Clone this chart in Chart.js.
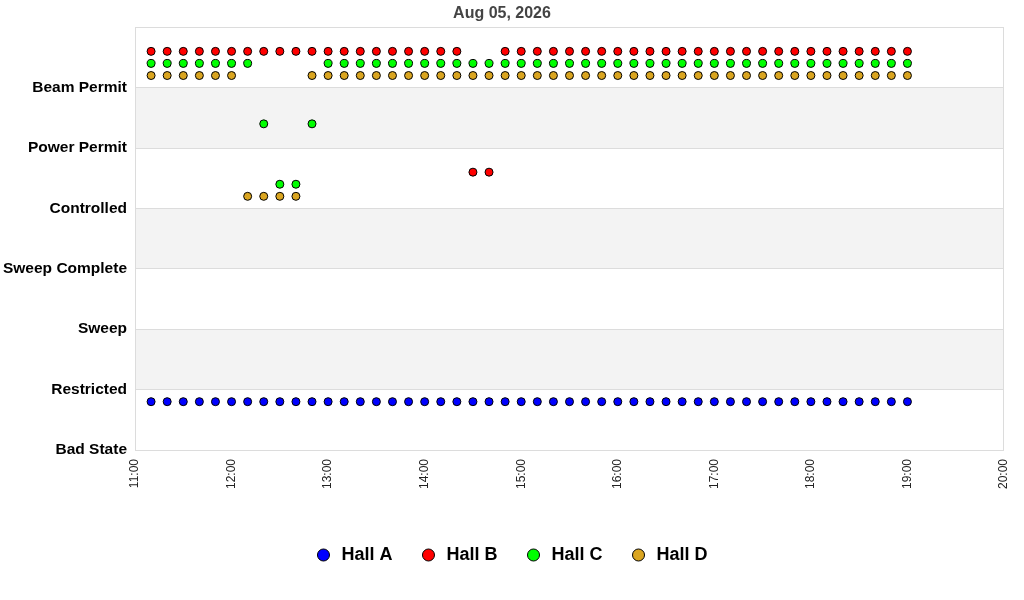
<!DOCTYPE html>
<html><head><meta charset="utf-8">
<script src="https://cdn.jsdelivr.net/npm/chart.js@4/dist/chart.umd.min.js"></script>
<style>html,body{margin:0;padding:0;background:#fff}#wrap{width:1024px;height:600px;position:relative}</style>
</head><body><div id="wrap"><canvas id="c"></canvas></div>
<script>
const titleText = "Aug 05, 2026";
const stateLabels = ["Bad State","Restricted","Sweep","Sweep Complete","Controlled","Power Permit","Beam Permit"];
const xTickLabels = ["11:00","12:00","13:00","14:00","15:00","16:00","17:00","18:00","19:00","20:00"];
const times = ["11:10","11:20","11:30","11:40","11:50","12:00","12:10","12:20","12:30","12:40","12:50","13:00",
"13:10","13:20","13:30","13:40","13:50","14:00","14:10","14:20","14:30","14:40","14:50","15:00",
"15:10","15:20","15:30","15:40","15:50","16:00","16:10","16:20","16:30","16:40","16:50","17:00",
"17:10","17:20","17:30","17:40","17:50","18:00","18:10","18:20","18:30","18:40","18:50","19:00"];
// state index per time (index into stateLabels)
const hallA = [0,0,0,0,0,0,0,0,0,0,0,0, 0,0,0,0,0,0,0,0,0,0,0,0, 0,0,0,0,0,0,0,0,0,0,0,0, 0,0,0,0,0,0,0,0,0,0,0,0];
const hallB = [6,6,6,6,6,6,6,6,6,6,6,6, 6,6,6,6,6,6,6,6,4,4,6,6, 6,6,6,6,6,6,6,6,6,6,6,6, 6,6,6,6,6,6,6,6,6,6,6,6];
const hallC = [6,6,6,6,6,6,6,5,4,4,5,6, 6,6,6,6,6,6,6,6,6,6,6,6, 6,6,6,6,6,6,6,6,6,6,6,6, 6,6,6,6,6,6,6,6,6,6,6,6];
const hallD = [6,6,6,6,6,6,4,4,4,4,6,6, 6,6,6,6,6,6,6,6,6,6,6,6, 6,6,6,6,6,6,6,6,6,6,6,6, 6,6,6,6,6,6,6,6,6,6,6,6];
const hallNames = ["Hall A","Hall B","Hall C","Hall D"];
const hallStates = [hallA, hallB, hallC, hallD];
const hallColors = ["#0000ff","#ff0000","#00ff00","#daa520"];
const hallOffsets = [0.8, 0.6, 0.4, 0.2];

function toMin(t){ const p=t.split(":"); return (+p[0])*60 + (+p[1]); }
function fmt(m){ const h=Math.floor(m/60), mm=m%60; return String(h).padStart(2,"0")+":"+String(mm).padStart(2,"0"); }

const datasets = hallNames.map((name,i)=>({
  label: name,
  data: times.map((t,j)=>({x: toMin(t), y: hallStates[i][j] + hallOffsets[i]})),
  backgroundColor: hallColors[i],
  borderColor: "#000",
  borderWidth: 1,
  pointRadius: 4,
  pointHoverRadius: 4,
  showLine: false
}));

const bandPlugin = {
  id: "bands",
  afterLayout(chart){
    if (chart.legend){ chart.legend.left += 9; chart.legend.right += 9; }
  },
  beforeDraw(chart){
    const {ctx, chartArea:a, scales:{y}} = chart;
    ctx.save();
    ctx.fillStyle = "#fff";
    ctx.fillRect(0,0,chart.width,chart.height);
    ctx.fillStyle = "#f3f3f3";
    for (let k=1;k<7;k+=2){
      const top = y.getPixelForValue(k+1), bot = y.getPixelForValue(k);
      ctx.fillRect(a.left, top, a.right-a.left, bot-top);
    }
    ctx.restore();
  },
  beforeDatasetsDraw(chart){
    const {ctx, chartArea:a} = chart;
    ctx.save();
    ctx.strokeStyle = "#dcdcdc";
    ctx.lineWidth = 1;
    ctx.strokeRect(Math.round(a.left)+0.5, Math.round(a.top)+0.5, Math.round(a.right-a.left)-1, Math.round(a.bottom-a.top));
    ctx.restore();
  }
};

new Chart(document.getElementById("c"), {
  type: "scatter",
  data: { datasets },
  plugins: [bandPlugin],
  options: {
    responsive: true,
    maintainAspectRatio: false,
    animation: false,
    layout: { padding: { left: 0, right: 20, top: 0, bottom: 26 } },
    plugins: {
      title: { display: true, text: titleText, color: "#444", font: { family: "Liberation Sans, Arial", size: 16, weight: "bold" }, padding: { top: 4, bottom: 4 } },
      legend: {
        position: "bottom",
        labels: {
          usePointStyle: true, pointStyle: "circle", boxHeight: 8.5, boxWidth: 18,
          padding: 27, color: "#000",
          font: { family: "Liberation Sans, Arial", size: 18, weight: "bold" }
        }
      },
      tooltip: { enabled: false }
    },
    scales: {
      x: {
        type: "linear",
        min: toMin(xTickLabels[0]), max: toMin(xTickLabels[xTickLabels.length-1]),
        afterBuildTicks(s){ s.ticks = xTickLabels.map(l=>({value: toMin(l)})); },
        ticks: { callback: v => fmt(v), minRotation: 90, maxRotation: 90, padding: 1, color: "#222",
                 font: { family: "Liberation Sans, Arial", size: 12 }, autoSkip: false },
        grid: { display: false },
        border: { display: false },
        afterFit(s){ s.height = 69; s.paddingLeft = 0; s.paddingRight = 0; }
      },
      y: {
        type: "linear", min: 0, max: 7,
        afterBuildTicks(s){ s.ticks = stateLabels.map((l,i)=>({value: i})); },
        ticks: { callback: v => stateLabels[v], padding: 8, color: "#000",
                 font: { family: "Liberation Sans, Arial", size: 15.5, weight: "bold" }, autoSkip: false },
        grid: { color: "#dcdcdc", drawTicks: false },
        border: { display: true, color: "#dcdcdc" },
        afterFit(s){ s.width = 135; }
      }
    }
  }
});
</script>
</body></html>
